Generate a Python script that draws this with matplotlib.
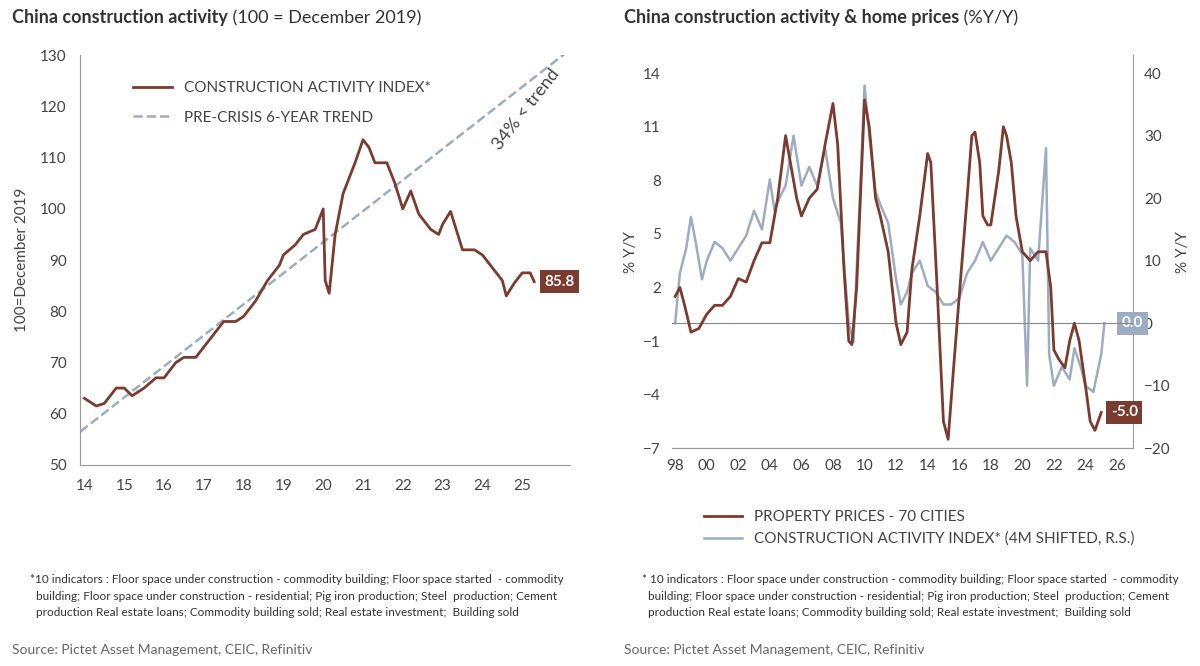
import matplotlib.pyplot as plt
import matplotlib as mpl

mpl.rcParams['font.family'] = ['Lato', 'DejaVu Sans']
mpl.rcParams['font.size'] = 11

brown = "#7b3b2e"
blue = "#9cadc2"
grey_txt = "#444444"

# left panel: construction activity index (100 = Dec 2019)
ca_x = [2014, 2014.3, 2014.5, 2014.8, 2015, 2015.2, 2015.5, 2015.8, 2016, 2016.3, 2016.5, 2016.8,
        2017, 2017.3, 2017.5, 2017.8, 2018, 2018.3, 2018.6, 2018.9, 2019, 2019.3, 2019.5, 2019.8,
        2020, 2020.05, 2020.15, 2020.3, 2020.5, 2020.8, 2021, 2021.15, 2021.3, 2021.6, 2021.8,
        2022, 2022.2, 2022.4, 2022.7, 2022.9, 2023, 2023.2, 2023.5, 2023.8, 2024, 2024.3, 2024.5,
        2024.6, 2024.8, 2025, 2025.2, 2025.3]
ca_y = [63, 61.5, 62, 65, 65, 63.5, 65, 67, 67, 70, 71, 71,
        73, 76, 78, 78, 79, 82, 86, 89, 91, 93, 95, 96,
        100, 86, 83.5, 95, 103, 109, 113.5, 112, 109, 109, 105,
        100, 103.5, 99, 96, 95, 97, 99.5, 92, 92, 91, 88, 86,
        83, 85.5, 87.5, 87.5, 85.8]
trend_x = [2013.9, 2026.1]
trend_y = [56.5, 130.5]

# right panel: property prices (%Y/Y, left axis) and construction (%Y/Y, right axis)
pp_x = [1998, 1998.3, 1998.6, 1999, 1999.5, 2000, 2000.5, 2001, 2001.5, 2002, 2002.5, 2003, 2003.5,
        2004, 2004.5, 2005, 2005.3, 2005.7, 2006, 2006.5, 2007, 2007.5, 2008, 2008.3, 2008.7, 2009,
        2009.2, 2009.5, 2010, 2010.3, 2010.7, 2011, 2011.5, 2012, 2012.3, 2012.7, 2013, 2013.5, 2014,
        2014.2, 2014.6, 2015, 2015.3, 2015.6, 2016, 2016.5, 2016.8, 2017, 2017.3, 2017.5, 2017.8,
        2018, 2018.5, 2018.8, 2019, 2019.3, 2019.6, 2020, 2020.5, 2021, 2021.5, 2021.8, 2022, 2022.3,
        2022.7, 2023, 2023.3, 2023.6, 2024, 2024.3, 2024.6, 2025]
pp_y = [1.5, 2, 1, -0.5, -0.3, 0.5, 1, 1, 1.5, 2.5, 2.3, 3.5, 4.5,
        4.5, 7, 10.5, 9, 7, 6, 7, 7.5, 10, 12.3, 10, 3, -1,
        -1.2, 2, 12.5, 11, 7, 6, 4, 0, -1.2, -0.5, 3, 6, 9.5,
        9, 2, -5.5, -6.5, -3, 1.5, 7, 10.5, 10.7, 9, 6, 5.5,
        5.5, 8.5, 11, 10.5, 9, 6, 4, 3.5, 4, 4, 2, -1.5, -2,
        -2.5, -1, 0, -1, -3.5, -5.5, -6, -5]
cs_x = [1998, 1998.3, 1998.7, 1999, 1999.3, 1999.7, 2000, 2000.5, 2001, 2001.5, 2002, 2002.5, 2003,
        2003.5, 2004, 2004.3, 2004.6, 2005, 2005.5, 2006, 2006.5, 2007, 2007.5, 2008, 2008.5, 2009,
        2009.3, 2009.7, 2010, 2010.3, 2010.7, 2011, 2011.5, 2012, 2012.3, 2012.7, 2013, 2013.5, 2014,
        2014.5, 2015, 2015.5, 2016, 2016.5, 2017, 2017.5, 2018, 2018.5, 2019, 2019.5, 2020, 2020.3,
        2020.5, 2021, 2021.5, 2021.7, 2022, 2022.5, 2023, 2023.3, 2023.7, 2024, 2024.5, 2025, 2025.2]
cs_y = [0, 8, 12, 17, 13, 7, 10, 13, 12, 10, 12, 14, 18,
        15, 23, 18, 20, 22, 30, 22, 25, 22, 28, 20, 16, 0,
        -3, 20, 38, 30, 21, 19, 16, 7, 3, 5, 8, 10, 6,
        5, 3, 3, 4, 8, 10, 13, 10, 12, 14, 13, 11, -10,
        12, 10, 28, -5, -10, -7, -9, -4, -7, -10, -11, -5, 0]

fig = plt.figure(figsize=(12, 6.66), dpi=100)

# ---- left panel
ax1 = fig.add_axes([0.067, 0.302, 0.408, 0.615])
ax1.plot(trend_x, trend_y, color=blue, linestyle="--", linewidth=1.8, label="PRE-CRISIS 6-YEAR TREND")
ax1.plot(ca_x, ca_y, color=brown, linewidth=2, label="CONSTRUCTION ACTIVITY INDEX*")
ax1.set_xlim(2013.9, 2026.2)
ax1.set_ylim(50, 130)
ax1.set_xticks(range(2014, 2026), [str(y)[2:] for y in range(2014, 2026)])
ax1.set_yticks(range(50, 131, 10))
ax1.set_ylabel("100=December 2019", color=grey_txt, labelpad=8)
for s in ["top", "right"]:
    ax1.spines[s].set_visible(False)
ax1.spines["left"].set_color("#999999")
ax1.spines["bottom"].set_color("#999999")
ax1.tick_params(colors=grey_txt, length=0, labelsize=11, pad=10)
h, l = ax1.get_legend_handles_labels()
ax1.legend(h[::-1], l[::-1], loc="upper left", bbox_to_anchor=(0.08, 0.97), frameon=False,
           fontsize=11, labelcolor=grey_txt, handlelength=2.5, labelspacing=1.0)
ax1.text(2025.1, 119.5, "34% < trend", rotation=52, fontsize=13, color=grey_txt, ha="center", va="center")
ax1.text(2025.55, 85.8, "85.8", color="white", fontsize=11, fontweight="bold", va="center",
         bbox=dict(boxstyle="square,pad=0.3", fc=brown, ec="none"))

# ---- right panel
ax2 = fig.add_axes([0.56, 0.327, 0.384, 0.59])
ax3 = ax2.twinx()
ax2.axhline(0, color="#888888", linewidth=0.8)
l1, = ax2.plot(pp_x, pp_y, color=brown, linewidth=2, zorder=3, label="PROPERTY PRICES - 70 CITIES")
l2, = ax3.plot(cs_x, cs_y, color=blue, linewidth=1.8, label="CONSTRUCTION ACTIVITY INDEX* (4M SHIFTED, R.S.)")
ax2.set_zorder(ax3.get_zorder() + 1)
ax2.patch.set_visible(False)
ax2.set_xlim(1997.8, 2027)
ax2.set_ylim(-7, 15)
ax3.set_ylim(-20, 15 * 20 / 7)
ax2.set_yticks([-7, -4, -1, 2, 5, 8, 11, 14])
ax3.set_yticks([-20, -10, 0, 10, 20, 30, 40])
ax2.set_xticks(range(1998, 2027, 2), ["%02d" % (y % 100) for y in range(1998, 2027, 2)])
ax2.set_ylabel("% Y/Y", color=grey_txt)
ax3.set_ylabel("% Y/Y", color=grey_txt)
for a in (ax2, ax3):
    a.spines["top"].set_visible(False)
    a.spines["left"].set_visible(False)
    a.spines["right"].set_color("#999999")
    a.spines["bottom"].set_color("#999999")
    a.tick_params(colors=grey_txt, length=0, labelsize=11, pad=8)
ax2.spines["right"].set_visible(False)
fig.legend([l1, l2], [l1.get_label(), l2.get_label()], loc="upper left", bbox_to_anchor=(0.575, 0.255),
           frameon=False, fontsize=11, labelcolor=grey_txt, handlelength=2.5)
ax3.text(2026.3, 0, "0.0", color="white", fontsize=11, fontweight="bold", va="center",
         bbox=dict(boxstyle="square,pad=0.3", fc=blue, ec="none"))
ax2.text(2025.6, -5, "-5.0", color="white", fontsize=11, fontweight="bold", va="center",
         bbox=dict(boxstyle="square,pad=0.3", fc=brown, ec="none"))

# titles: bold part then normal part right after it
t1 = fig.text(0.01, 0.965, "China construction activity", fontsize=13, fontweight="bold", color="#333333")
ax1.annotate(" (100 = December 2019)", xy=(1, 0), xycoords=t1, fontsize=13, color="#333333",
             va="bottom", annotation_clip=False)
t2 = fig.text(0.52, 0.965, "China construction activity & home prices", fontsize=13, fontweight="bold", color="#333333")
ax2.annotate(" (%Y/Y)", xy=(1, 0), xycoords=t2, fontsize=13, color="#333333", va="bottom", annotation_clip=False)

note = ("*10 indicators : Floor space under construction - commodity building; Floor space started  - commodity\n"
        "  building; Floor space under construction - residential; Pig iron production; Steel  production; Cement\n"
        "  production Real estate loans; Commodity building sold; Real estate investment;  Building sold")
fig.text(0.025, 0.075, note, fontsize=8.5, color="#333333", linespacing=1.6)
fig.text(0.535, 0.075, note.replace("*10", "* 10"), fontsize=8.5, color="#333333", linespacing=1.6)
fig.text(0.01, 0.018, "Source: Pictet Asset Management, CEIC, Refinitiv", fontsize=10, color="#666666")
fig.text(0.52, 0.018, "Source: Pictet Asset Management, CEIC, Refinitiv", fontsize=10, color="#666666")

plt.savefig("out.png", dpi=100)
